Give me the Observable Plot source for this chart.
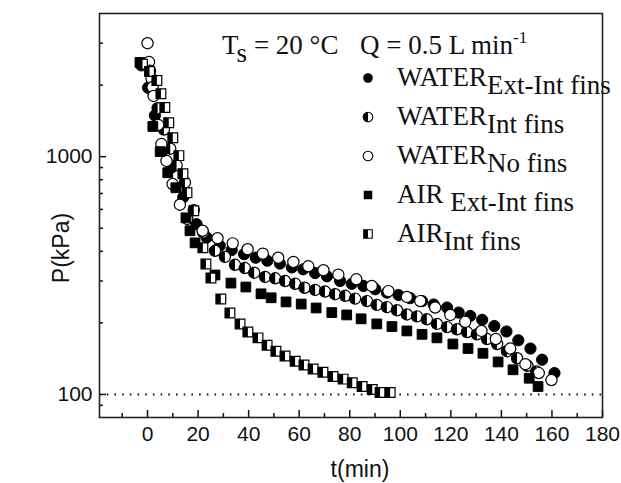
<!DOCTYPE html>
<html><head><meta charset="utf-8">
<script src="https://cdn.jsdelivr.net/npm/d3@7"></script>
<script src="https://cdn.jsdelivr.net/npm/@observablehq/plot@0.6"></script>
<style>body{margin:0;background:#fff} #chart{width:621px;height:483px}</style>
</head><body><div id="chart"></div>
<script>
// ---- data (t in min, P in kPa) ----
const tWaterExt = [-2.4, 0.2, 2.9, 6.1, 9.5, 14.1, 19.4, 23.4, 28.6, 33.3, 38.2, 42.8, 47.4, 52.4, 57.1, 61.6, 66.3, 71.0, 76.2, 80.8, 85.4, 90.1, 94.7, 99.3, 103.9, 108.6, 113.2, 118.5, 123.1, 127.7, 132.4, 137.2, 142.0, 146.7, 151.5, 156.1, 161.0];
const pWaterExt = [2420, 1950, 1490, 1060, 900, 674, 520, 457, 422, 405, 389, 376, 365, 355, 342, 336, 324, 314, 300, 292, 286, 277, 268, 262, 254, 247, 239, 232, 221, 214, 206, 194, 184, 169, 156, 140, 123];

const tWaterInt = [-1.5, 1.5, 4, 6.5, 9, 11.5, 14.8, 18.3, 22, 26.7, 30.6, 34.6, 38.5, 42.2, 46.5, 50.5, 54.4, 58.4, 62.1, 66.3, 70.2, 74.2, 78.2, 82.1, 86.8, 90.7, 94.7, 98.7, 102.6, 106.6, 110.5, 114.5, 118.5, 122.4, 126.4, 130.3, 134.3, 138.3, 142.2, 146.2, 150.3, 153.8];
const pWaterInt = [2450, 2000, 1600, 1300, 1080, 920, 779, 596, 480, 402, 379, 351, 340, 325, 312, 308, 300, 292, 281, 275, 271, 264, 260, 253, 247, 238, 233, 226, 217, 213, 207, 198, 192, 188, 183, 179, 171, 163, 152, 142, 132, 125];

const tWaterNo = [0, 0.6, 1.0, 1.6, 2.0, 2.4, 4.2, 5.5, 7.5, 9.9, 12.8, 15.7, 21.8, 27.7, 33.7, 39.6, 45.6, 51.7, 57.7, 63.6, 69.6, 75.5, 82.6, 88.7, 95.3, 102.6, 107.9, 113.8, 119.8, 125.7, 132.1, 137.8, 143.5, 149.5, 154.8, 159.8];
const pWaterNo = [3000, 2500, 2300, 2130, 1960, 1800, 1360, 1130, 960, 767, 628, 547, 488, 454, 432, 408, 391, 376, 361, 346, 333, 319, 305, 286, 272, 257, 247, 232, 216, 202, 185, 171, 156, 134, 123, 115];

const tAirExt = [-3, 2.1, 5, 8.0, 11.2, 15.2, 16.8, 18.8, 26.7, 33.0, 38.9, 44.9, 48.9, 54.8, 60.8, 66.7, 72.9, 78.8, 84.5, 90.7, 96.7, 102.6, 108.6, 114.5, 120.8, 126.8, 132.7, 138.7, 144.6, 151.0, 154.5];
const pAirExt = [2490, 1340, 1050, 856, 740, 553, 488, 434, 318, 294, 283, 265, 255, 245, 240, 231, 221, 216, 208, 198, 193, 185, 179, 173, 163, 156, 149, 137, 127, 117, 108];

const tAirInt = [-2, 0.8, 3.7, 5.3, 6.85, 8.4, 10.0, 12.4, 14.0, 15.6, 18.3, 21.9, 23.1, 25.1, 29.0, 32.6, 36.6, 39.7, 43.7, 47.3, 50.8, 54.4, 58.4, 61.9, 65.5, 69.4, 73.4, 77.4, 81.0, 84.9, 88.9, 92.0, 96.0];
const pAirInt = [2450, 2280, 2090, 1840, 1610, 1390, 1200, 1010, 848, 705, 592, 414, 354, 309, 252, 220, 198, 183, 173, 161, 152, 145, 138, 133, 128, 124, 119, 116, 112, 108, 105, 102, 102];

const xMajorTicks = [0, 20, 40, 60, 80, 100, 120, 140, 160, 180];
const xMinorTicks = [-10, 10, 30, 50, 70, 90, 110, 130, 150, 170];
const yMajorTicks = [100, 1000];
const yMinorTicks = [90, 200, 300, 400, 500, 600, 700, 800, 900, 2000, 3000];
const referenceLine = [100];

const legendMain = ["WATER", "WATER", "WATER", "AIR ", "AIR"];
const legendSub = ["Ext-Int fins", "Int fins", "No fins", "Ext-Int fins", "Int fins"];
const legendSym = ["fullCircle", "halfCircle", "openCircle", "fullSquare", "halfSquare"];
const xTitle = "t(min)";
const yTitle = "P(kPa)";

// ---- build tables ----
const zip = (ts, ps) => ts.map((t, i) => ({t, p: ps[i]}));
const dWE = zip(tWaterExt, pWaterExt);
const dWI = zip(tWaterInt, pWaterInt);
const dWN = zip(tWaterNo, pWaterNo);
const dAE = zip(tAirExt, pAirExt);
const dAI = zip(tAirInt, pAirInt);

// custom half symbols (left half filled)
const halfCircle = {draw(ctx, size) {const r = Math.sqrt(size / Math.PI); ctx.moveTo(0, -r); ctx.arc(0, 0, r, -Math.PI / 2, Math.PI / 2, true); ctx.closePath();}};
const halfSquare = {draw(ctx, size) {const s = Math.sqrt(size) / 2; ctx.moveTo(-s, -s); ctx.lineTo(0, -s); ctx.lineTo(0, s); ctx.lineTo(-s, s); ctx.closePath();}};

const W = 621, H = 483, ML = 99, MR = 19, MT = 13, MB = 66;
const FW = W - ML - MR, FH = H - MT - MB;
const RC = 5.6, RS = 5.5;
const ink = "#111";

const plot = Plot.plot({
  width: W, height: H,
  marginLeft: ML, marginRight: MR, marginTop: MT, marginBottom: MB,
  style: {fontFamily: "'Liberation Sans', Arial, sans-serif", fontSize: "21px", color: ink, background: "white"},
  x: {domain: [-19, 180], ticks: xMajorTicks, tickSize: 0, tickPadding: 9, tickFormat: d => String(d), label: null},
  y: {type: "log", domain: [80, 4000], ticks: yMajorTicks, tickSize: 0, tickPadding: 7, tickFormat: d => String(d), label: null},
  marks: [
    Plot.ruleY(referenceLine, {stroke: ink, strokeWidth: 2, strokeDasharray: "1.6,6.1"}),
    Plot.ruleX(xMajorTicks, {stroke: ink, strokeWidth: 1.5, insetTop: FH - 7}),
    Plot.ruleX(xMinorTicks, {stroke: ink, strokeWidth: 1.5, insetTop: FH - 4}),
    Plot.ruleY(yMajorTicks, {stroke: ink, strokeWidth: 1.5, insetRight: FW - 7}),
    Plot.ruleY(yMinorTicks, {stroke: ink, strokeWidth: 1.5, insetRight: FW - 4}),
    Plot.dot(dWE, {x: "t", y: "p", r: RC, fill: "black", stroke: "black", strokeWidth: 1}),
    Plot.dot(dWI, {x: "t", y: "p", r: RC, fill: "white", stroke: "black", strokeWidth: 1.2}),
    Plot.dot(dWI, {x: "t", y: "p", r: RC, symbol: halfCircle, fill: "black"}),
    Plot.dot(dWN, {x: "t", y: "p", r: RC, fill: "white", stroke: "black", strokeWidth: 1.2}),
    Plot.dot(dAE, {x: "t", y: "p", r: RS, symbol: "square", fill: "black", stroke: "black", strokeWidth: 1}),
    Plot.dot(dAI, {x: "t", y: "p", r: RS, symbol: "square", fill: "white", stroke: "black", strokeWidth: 1.2}),
    Plot.dot(dAI, {x: "t", y: "p", r: RS, symbol: halfSquare, fill: "black"}),
    Plot.frame({stroke: "#222", strokeWidth: 1.6})
  ]
});
document.getElementById("chart").appendChild(plot);

// ---- titles and legend ----
const svg = d3.select(plot);
svg.append("text").attr("x", 360).attr("y", 477).attr("text-anchor", "middle")
  .style("font-family", "'Liberation Sans', Arial, sans-serif").style("font-size", "23px").attr("fill", ink).text(xTitle);
svg.append("text").attr("transform", "translate(61,248) rotate(-90)").attr("text-anchor", "middle").attr("dy", "0.35em")
  .style("font-family", "'Liberation Sans', Arial, sans-serif").style("font-size", "23px").attr("fill", ink).text(yTitle);

const serif = "'Liberation Serif', 'Times New Roman', serif";
const g = svg.append("g").style("font-family", serif).style("font-size", "27px").attr("text-anchor", "start").attr("fill", ink);
// Ts = 20 °C
const ts = g.append("text").attr("x", 222).attr("y", 54).attr("text-anchor", "start");
ts.append("tspan").text("T");
ts.append("tspan").attr("dy", 8).text("s");
ts.append("tspan").attr("dy", -8).text(" = 20 °C");
// Q = 0.5 L min-1
const q = g.append("text").attr("x", 360).attr("y", 54).attr("text-anchor", "start");
q.append("tspan").text("Q = 0.5 L min");
q.append("tspan").attr("dy", -11).style("font-size", "17px").text("-1");

const symArea = Math.PI * 4.8 * 4.8;
legendMain.forEach((m, i) => {
  const cy = 78 + i * 39, cx = 368;
  const kind = legendSym[i];
  const isSq = kind.includes("Square");
  const base = d3.symbol().type(isSq ? d3.symbolSquare : d3.symbolCircle).size(symArea)();
  if (kind === "fullCircle" || kind === "fullSquare") {
    g.append("path").attr("d", base).attr("transform", `translate(${cx},${cy})`).attr("fill", "black");
  } else {
    g.append("path").attr("d", base).attr("transform", `translate(${cx},${cy})`).attr("fill", "white").attr("stroke", "black").attr("stroke-width", 1.1);
    if (kind !== "openCircle") {
      const half = d3.symbol().type(isSq ? halfSquare : halfCircle).size(symArea)();
      g.append("path").attr("d", half).attr("transform", `translate(${cx},${cy})`).attr("fill", "black");
    }
  }
  const t = g.append("text").attr("x", 397).attr("y", cy + 8).attr("text-anchor", "start");
  t.append("tspan").text(m);
  t.append("tspan").attr("dy", 8).text(legendSub[i]);
});
</script></body></html>
